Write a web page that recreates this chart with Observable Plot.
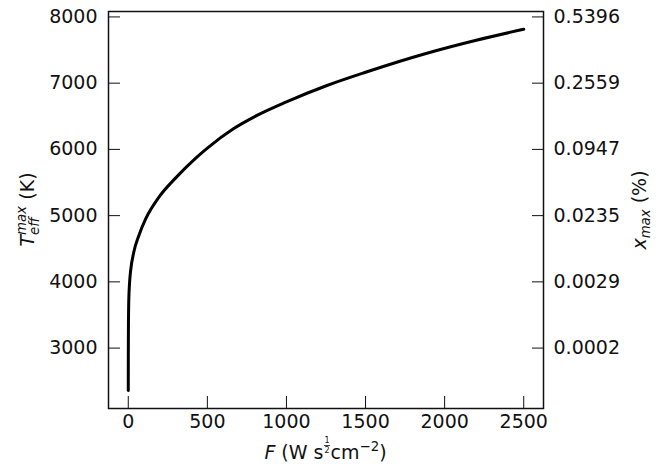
<!DOCTYPE html>
<html><head><meta charset="utf-8">
<script src="https://cdn.jsdelivr.net/npm/d3@7"></script>
<script src="https://cdn.jsdelivr.net/npm/@observablehq/plot@0.6"></script>
<style>body{margin:0;background:#fff} #chart{width:660px;height:468px}</style>
</head><body><div id="chart"></div>
<script>
// Data
const fluxF = [0, 0.3, 1, 3, 8, 15, 35, 67, 110, 193, 300, 425, 500, 667, 820, 1000, 1256, 1500, 1888, 2200, 2500];
const tEffMax = [2360, 2900, 3300, 3700, 3980, 4170, 4450, 4700, 4950, 5276, 5570, 5865, 6020, 6315, 6520, 6717, 6965, 7165, 7452, 7648, 7814];
const fTicks = [0, 500, 1000, 1500, 2000, 2500];
const tTicks = [3000, 4000, 5000, 6000, 7000, 8000];
const xmaxLabels = ["0.0002", "0.0029", "0.0235", "0.0947", "0.2559", "0.5396"];

const data = fluxF.map((f, i) => ({F: f, T: tEffMax[i]}));
const ink = "#111";

const svg = Plot.plot({
  width: 660, height: 468,
  marginLeft: 108, marginRight: 117, marginTop: 11, marginBottom: 60,
  style: {fontFamily: "DejaVu Sans", fontSize: "19px", color: ink, background: "#fff", overflow: "visible"},
  x: {domain: [-125, 2625]},
  y: {domain: [2088, 8082]},
  marks: [
    Plot.line(data, {x: "F", y: "T", curve: "monotone-x", stroke: "#000", strokeWidth: 3}),
    Plot.axisX({ticks: fTicks, tickSize: 0, tickPadding: 6, label: null, tickFormat: d => String(d)}),
    Plot.axisX({ticks: fTicks, tickSize: -12, label: null, tickFormat: () => ""}),
    Plot.axisY({anchor: "left", ticks: tTicks, tickSize: 0, tickPadding: 11, label: null, tickFormat: d => String(d)}),
    Plot.axisY({anchor: "left", ticks: tTicks, tickSize: -12, label: null, tickFormat: () => ""}),
    Plot.axisY({anchor: "right", ticks: tTicks, tickSize: 0, tickPadding: 10, label: null, tickFormat: d => xmaxLabels[tTicks.indexOf(d)]}),
    Plot.axisY({anchor: "right", ticks: tTicks, tickSize: -12, label: null, tickFormat: () => ""}),
    Plot.frame({stroke: ink, strokeWidth: 1.5})
  ]
});
document.getElementById("chart").appendChild(svg);

const font = `font-family="DejaVu Sans" fill="${ink}"`;
svg.insertAdjacentHTML("beforeend", `
<text id="xlab" x="325.5" y="459" text-anchor="middle" font-size="19" ${font}><tspan font-style="italic">F</tspan> (W s<tspan font-size="8" dx="1" dy="-16">1</tspan><tspan font-size="8" dx="-5.1" dy="9.5">2</tspan><tspan dx="1" dy="6.5">cm</tspan><tspan font-size="13.3" dy="-8">−2</tspan><tspan dy="8">)</tspan></text>
<text transform="translate(34,209.5) rotate(-90)" text-anchor="middle" font-size="19" ${font}><tspan font-style="italic">T</tspan><tspan font-size="13.3" font-style="italic" dy="-8">max</tspan><tspan font-size="13.3" font-style="italic" dx="-29" dy="13">eff</tspan><tspan dx="11.5" dy="-5"> (K)</tspan></text>
<text transform="translate(646,210) rotate(-90)" text-anchor="middle" font-size="19" ${font}><tspan font-style="italic">x</tspan><tspan font-size="13.3" font-style="italic" dy="4">max</tspan><tspan dy="-4"> (%)</tspan></text>
`);
// fraction bar for the 1/2 exponent
const xl = svg.querySelector("#xlab");
try {
  const e = xl.getExtentOfChar(6);
  svg.insertAdjacentHTML("beforeend", `<line x1="${e.x - 0.5}" x2="${e.x + e.width + 0.5}" y1="445.5" y2="445.5" stroke="${ink}" stroke-width="0.8"/>`);
} catch (err) {}
</script>
</body></html>
